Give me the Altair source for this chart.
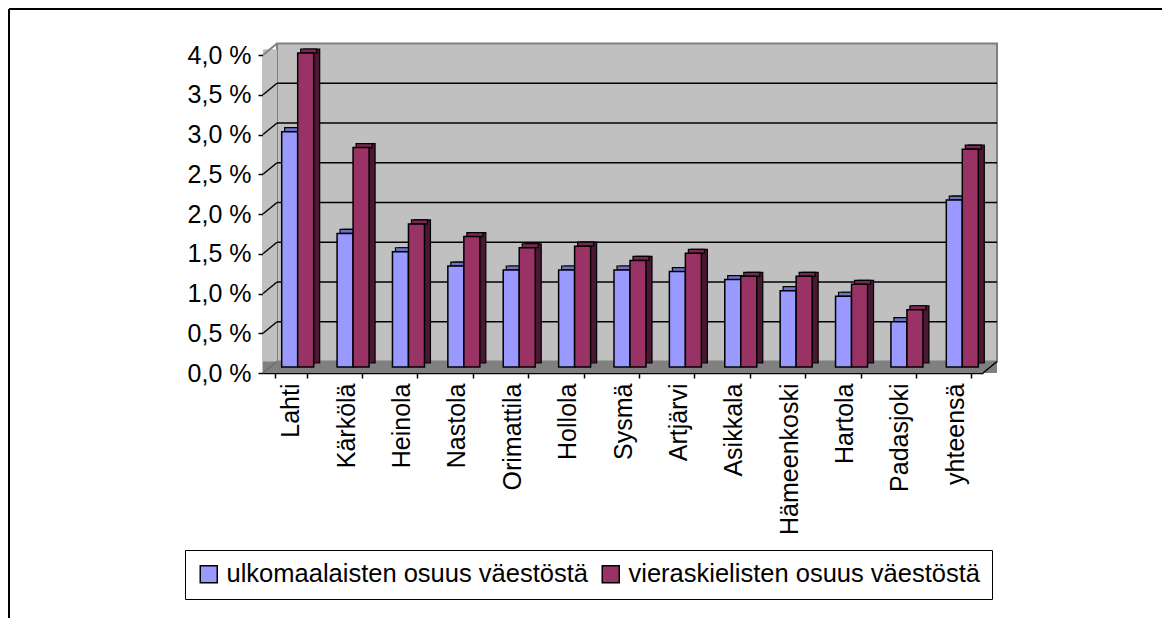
import altair as alt
import pandas as pd

kunnat = ["Lahti", "Kärkölä", "Heinola", "Nastola", "Orimattila", "Hollola", "Sysmä",
          "Artjärvi", "Asikkala", "Hämeenkoski", "Hartola", "Padasjoki", "yhteensä"]
sarjat = ["ulkomaalaisten osuus väestöstä", "vieraskielisten osuus väestöstä"]
ulkomaalaiset = [2.96, 1.68, 1.45, 1.27, 1.22, 1.22, 1.22, 1.20, 1.10, 0.96, 0.89, 0.57, 2.10]
vieraskieliset = [3.95, 2.76, 1.80, 1.64, 1.50, 1.52, 1.34, 1.43, 1.14, 1.14, 1.04, 0.72, 2.74]
y_ticks = [0.0, 0.5, 1.0, 1.5, 2.0, 2.5, 3.0, 3.5, 4.0]

W, H = 720, 318
DX, DY = 14, 11.5
BW = 16

rows = []
for i, k in enumerate(kunnat):
    rows.append({"kunta": k, "sarja": sarjat[0], "arvo": ulkomaalaiset[i]})
    rows.append({"kunta": k, "sarja": sarjat[1], "arvo": vieraskieliset[i]})
df = pd.DataFrame(rows)
grid_df = pd.DataFrame({"arvo": y_ticks[1:-1]})
top_df = pd.DataFrame({"arvo": [y_ticks[-1]]})
one = pd.DataFrame({"a": [0]})

x_enc = alt.X("kunta:N", sort=kunnat,
              scale=alt.Scale(paddingInner=0.422, paddingOuter=0.211),
              axis=alt.Axis(title=None, labelAngle=270, labelPadding=5, tickBand="extent",
                            labelFontSize=25))
y_enc = alt.Y("arvo:Q", scale=alt.Scale(domain=[0, 4], nice=False, zero=True),
              axis=alt.Axis(title=None, values=y_ticks, labelPadding=7,
                            labelExpr="replace(format(datum.value, '.1f'), '.', ',') + ' %'"))
color_enc = alt.Color("sarja:N", sort=sarjat,
                      scale=alt.Scale(domain=sarjat, range=["#9999FF", "#993366"]),
                      legend=alt.Legend(orient="none", legendX=-78, legendY=495, direction="horizontal",
                                        title=None, symbolType="square", symbolSize=289,
                                        symbolStrokeColor="black", symbolStrokeWidth=1.5,
                                        labelFontSize=25.5, labelFont="Liberation Sans", labelColor="black",
                                        strokeColor="black", fillColor="white", padding=11,
                                        columnPadding=10, labelOffset=5, labelLimit=600))

back_wall = alt.Chart(one).mark_rect(fill="#C0C0C0", stroke="#808080", strokeWidth=2).encode(
    x=alt.value(DX), x2=alt.value(W + DX), y=alt.value(-DY), y2=alt.value(H - DY))
left_wall = alt.Chart(one).mark_rect(fill="#C0C0C0").encode(
    x=alt.value(0), x2=alt.value(DX), y=alt.value(-DY / 2), y2=alt.value(H))
floor = alt.Chart(one).mark_rect(fill="#808080").encode(
    x=alt.value(0), x2=alt.value(W + DX), y=alt.value(H - DY), y2=alt.value(H))

grid = alt.Chart(grid_df).mark_rule(color="black", strokeWidth=1.5, yOffset=-DY).encode(
    x=alt.value(DX), x2=alt.value(W + DX), y=y_enc)
left_grid = alt.Chart(grid_df).mark_rule(color="black", strokeWidth=1.5, y2Offset=-DY).encode(
    x=alt.value(0), x2=alt.value(DX), y=y_enc, y2=alt.Y2("arvo"))
left_top = alt.Chart(top_df).mark_rule(color="#808080", strokeWidth=2, y2Offset=-DY).encode(
    x=alt.value(0), x2=alt.value(DX), y=y_enc, y2=alt.Y2("arvo"))
floor_edges = alt.Chart(one).mark_rule(color="black", strokeWidth=1.5).encode(
    x=alt.value(W), x2=alt.value(W + DX), y=alt.value(H), y2=alt.value(H - DY))
floor_left = alt.Chart(one).mark_rule(color="#606060", strokeWidth=1).encode(
    x=alt.value(0), x2=alt.value(DX), y=alt.value(H), y2=alt.value(H - DY))

side_cols = ["#55558f", "#4a1833"]
top_cols = ["#7070c8", "#7a2850"]
front_off = [-BW / 2 + 7, BW / 2 + 7]

side_layers, top_layers, front_layers = [], [], []
for j, s in enumerate(sarjat):
    base = alt.Chart(df).transform_filter(alt.datum.sarja == s)
    side_layers.append(base.mark_bar(
        width=BW, color=side_cols[j], stroke="black", strokeWidth=1.2,
        xOffset=front_off[j] + 6, yOffset=-10, y2Offset=-10).encode(x=x_enc, y=y_enc))
    top_layers.append(base.mark_bar(
        width=BW, color=top_cols[j], stroke="black", strokeWidth=1.2,
        xOffset=front_off[j] + 3, yOffset=-10, y2Offset=-6).encode(x=x_enc, y=y_enc, y2=alt.Y2("arvo")))
    front_layers.append(base.mark_bar(
        width=BW, stroke="black", strokeWidth=1.5,
        xOffset=front_off[j], yOffset=-6, y2Offset=-6).encode(x=x_enc, y=y_enc, color=color_enc))

border = alt.Chart(one).mark_rule(color="black", strokeWidth=2).encode(
    x=alt.value(-254), x2=alt.value(905), y=alt.value(-46), y2=alt.value(-46))
border_left = alt.Chart(one).mark_rule(color="black", strokeWidth=2).encode(
    x=alt.value(-254), x2=alt.value(-254), y=alt.value(-46), y2=alt.value(580))

chart = alt.layer(
    back_wall, left_wall, floor, grid, left_grid, left_top, floor_left,
    side_layers[0], top_layers[0], front_layers[0],
    side_layers[1], top_layers[1], front_layers[1],
    floor_edges, border, border_left
).properties(
    width=W, height=H,
    autosize=alt.AutoSizeParams(type="none"),
    padding={"left": 255, "top": 47, "right": 179, "bottom": 245},
    background="white"
).configure_view(stroke=None).configure_axis(
    labelFont="Liberation Sans", labelFontSize=25, labelColor="black",
    domainColor="black", domainWidth=1.5, tickColor="black", tickWidth=1.5,
    tickSize=5, grid=False
)

chart.save("out.html", embed_options={"renderer": "svg", "actions": False})
